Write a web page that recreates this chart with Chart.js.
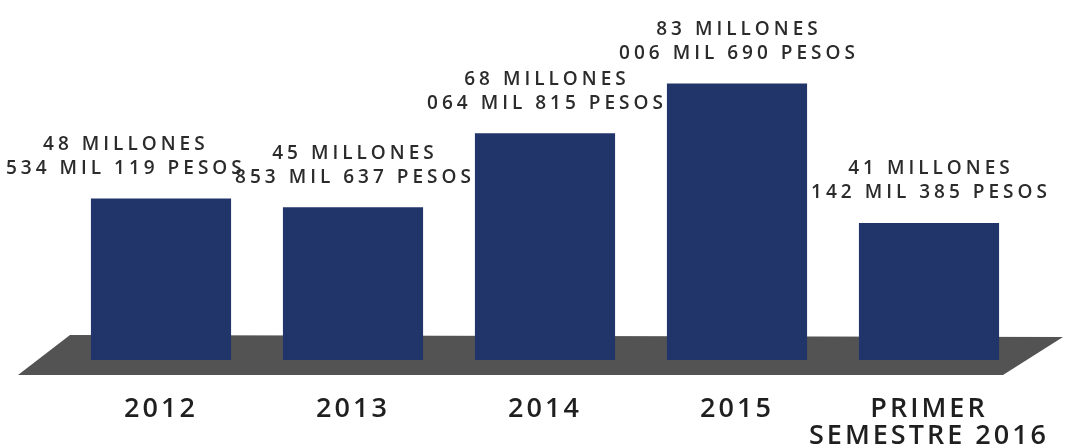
<!DOCTYPE html>
<html>
<head>
<meta charset="utf-8">
<script src="https://cdn.jsdelivr.net/npm/chart.js@4"></script>
<style>
    html, body { margin: 0; padding: 0; background: #fff; }
    #wrap { width: 1073px; height: 447px; }
</style>
</head>
<body>
<div id="wrap"><canvas id="graphic"></canvas></div>
<script>
const ctx = document.getElementById('graphic');

// categorias e valores (millones de pesos)
const categorias = ['2012', '2013', '2014', '2015', ['PRIMER', 'SEMESTRE 2016']];
const valores = [48.534119, 45.853637, 68.064815, 83.006690, 41.142385];
const etiquetas1 = ['48 MILLONES', '45 MILLONES', '68 MILLONES', '83 MILLONES', '41 MILLONES'];
const etiquetas2 = ['534 MIL 119 PESOS', '853 MIL 637 PESOS', '064 MIL 815 PESOS', '006 MIL 690 PESOS', '142 MIL 385 PESOS'];

// piso gris detras de las barras
const piso = {
    id: 'piso',
    beforeDraw(chart) {
        chart.ctx.letterSpacing = '3px';
    },
    beforeDatasetsDraw(chart) {
        const { ctx, chartArea } = chart;
        const y0 = chart.scales.y.getPixelForValue(0);
        ctx.save();
        ctx.fillStyle = '#535353';
        ctx.beginPath();
        ctx.moveTo(chartArea.left + 5, y0 - 25);
        ctx.lineTo(chartArea.right + 38, y0 - 23);
        ctx.lineTo(chartArea.right - 22, y0 + 15);
        ctx.lineTo(chartArea.left - 47, y0 + 15);
        ctx.closePath();
        ctx.fill();
        ctx.restore();
    }
};

// textos encima de cada barra
const rotulos = {
    id: 'rotulos',
    afterDatasetsDraw(chart) {
        const { ctx } = chart;
        const meta = chart.getDatasetMeta(0);
        ctx.save();
        ctx.fillStyle = '#2b2b2b';
        ctx.font = '600 19px "Open Sans"';
        ctx.letterSpacing = '4px';
        ctx.textAlign = 'center';
        ctx.textBaseline = 'middle';

        // posicao de cada bloco, empurra p/ esquerda se bater no vizinho
        const blocos = meta.data.map((bar, i) => {
            const w = Math.max(ctx.measureText(etiquetas1[i]).width, ctx.measureText(etiquetas2[i]).width);
            return { x: bar.x + 2, y: bar.y, w: w };
        });
        for (let i = blocos.length - 2; i >= 0; i--) {
            const a = blocos[i], b = blocos[i + 1];
            const juntos = Math.abs(a.y - b.y) < 48;
            const sobra = (a.x + a.w / 2) - (b.x - b.w / 2) + 6;
            if (juntos && sobra > 0) {
                a.x = Math.max(a.w / 2 + 6, a.x - sobra);
            }
        }

        blocos.forEach((p, i) => {
            ctx.fillText(etiquetas1[i], p.x, p.y - 54);
            ctx.fillText(etiquetas2[i], p.x, p.y - 30);
        });
        ctx.restore();
    }
};

new Chart(ctx, {
    type: 'bar',
    data: {
        labels: categorias,
        datasets: [{
            data: valores,
            backgroundColor: '#22356b',
            borderWidth: 0,
            categoryPercentage: 1,
            barPercentage: 0.73
        }]
    },
    options: {
        responsive: true,
        maintainAspectRatio: false,
        animation: false,
        layout: { padding: { top: 27, left: 65, right: 48, bottom: 0 } },
        plugins: {
            legend: { display: false },
            tooltip: { enabled: false }
        },
        scales: {
            x: {
                grid: { display: false },
                border: { display: false },
                afterFit(scale) {
                    scale.height = 87;
                },
                ticks: {
                    color: '#1f1f1f',
                    padding: 28,
                    maxRotation: 0,
                    autoSkip: false,
                    font: { family: 'Open Sans', weight: '600', size: 27, lineHeight: '27px' }
                }
            },
            y: {
                display: false,
                min: 0,
                max: 100
            }
        }
    },
    plugins: [piso, rotulos]
});
</script>
</body>
</html>
